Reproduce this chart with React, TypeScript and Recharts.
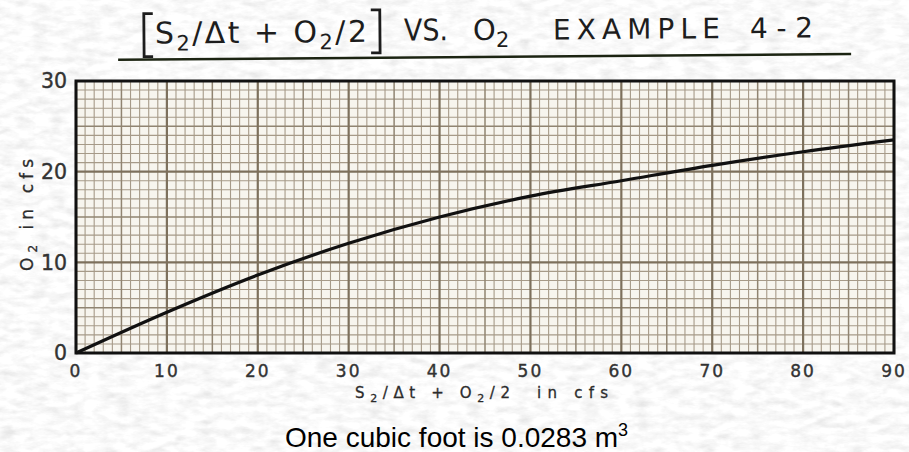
import React from "react";
import {
  LineChart,
  Line,
  XAxis,
  YAxis,
  CartesianGrid,
  ReferenceArea,
} from "recharts";

// S2/dt + O2/2 (cfs) against O2 (cfs)
const storageIndication = [0, 10, 20, 30, 40, 50, 60, 70, 80, 90];
const outflowO2 = [0, 4.5, 8.6, 12.1, 15.0, 17.3, 19.0, 20.7, 22.2, 23.5];

const xTicks = [0, 10, 20, 30, 40, 50, 60, 70, 80, 90];
const yTicks = [0, 10, 20, 30];

const X_MAX = 90;
const Y_MAX = 30;

const data = storageIndication.map((x, i) => ({ x, o2: outflowO2[i] }));

// graph paper: a line every unit, heavier every 5 and every 10
const units = (max: number, keep: (v: number) => boolean) =>
  Array.from({ length: max + 1 }, (_, i) => i).filter(keep);
const minorX = units(X_MAX, (v) => v % 5 !== 0);
const midX = units(X_MAX, (v) => v % 10 === 5);
const minorY = units(Y_MAX, (v) => v % 5 !== 0);
const midY = units(Y_MAX, (v) => v % 10 === 5);

function toPx(axis: any, v: number, fallback: () => number) {
  const s = axis?.scale;
  if (typeof s === "function") return s(v);
  if (s && typeof s.map === "function") return s.map(v);
  return fallback();
}

const xGen = (vals: number[]) => ({ xAxis, offset }: any) =>
  vals.map((v) =>
    toPx(xAxis, v, () => offset.left + (v / X_MAX) * offset.width)
  );
const yGen = (vals: number[]) => ({ yAxis, offset }: any) =>
  vals.map((v) =>
    toPx(yAxis, v, () => offset.top + offset.height - (v / Y_MAX) * offset.height)
  );

const LETTERING = "'DejaVu Sans', sans-serif";
const INK = "#1d1d1d";

// a lowered "2" followed by the rest of the text back on the baseline
function Sub({ size, drop, rest }: { size: number; drop: number; rest?: string }) {
  return (
    <>
      <tspan fontSize={size} dy={drop}>
        2
      </tspan>
      {rest ? <tspan dy={-drop}>{rest}</tspan> : null}
    </>
  );
}

function PaperBackground() {
  return (
    <svg
      width={909}
      height={452}
      style={{ position: "absolute", left: 0, top: 0 }}
    >
      <defs>
        <filter id="paper" x="0" y="0" width="100%" height="100%">
          <feTurbulence
            type="fractalNoise"
            baseFrequency="0.06 0.14"
            numOctaves={4}
            seed={11}
          />
          <feColorMatrix
            type="matrix"
            values="0.33 0.33 0.33 0 0  0.33 0.33 0.33 0 0  0.33 0.33 0.33 0 0  0 0 0 0 1"
          />
          <feComponentTransfer>
            <feFuncR type="linear" slope={0.6} intercept={0.66} />
            <feFuncG type="linear" slope={0.6} intercept={0.66} />
            <feFuncB type="linear" slope={0.6} intercept={0.66} />
          </feComponentTransfer>
        </filter>
      </defs>
      <rect width={909} height={452} fill="#e8e8e8" />
      <rect width={909} height={452} filter="url(#paper)" />
    </svg>
  );
}

function Annotations() {
  return (
    <svg
      width={909}
      height={452}
      style={{ position: "absolute", left: 0, top: 0, pointerEvents: "none" }}
    >
      <g transform="rotate(-0.45 480 40)" fill={INK} fontFamily={LETTERING}>
        <polyline
          points="153,11 144,11 144,54 153,54"
          fill="none"
          stroke={INK}
          strokeWidth={2.8}
        />
        <text x={155} y={41} fontSize={30} textLength={212} lengthAdjust="spacing">
          S<Sub size={21} drop={7} rest="/Δt + O" />
          <Sub size={21} drop={7} rest="/2" />
        </text>
        <polyline
          points="371,9 380,9 380,52 371,52"
          fill="none"
          stroke={INK}
          strokeWidth={2.8}
        />
        <text
          x={404}
          y={40}
          fontSize={30}
          textLength={44}
          lengthAdjust="spacingAndGlyphs"
        >
          VS.
        </text>
        <text x={473} y={40} fontSize={29}>
          O<Sub size={21} drop={7} />
        </text>
        <text x={553} y={40} fontSize={28} textLength={167} lengthAdjust="spacing">
          EXAMPLE
        </text>
        <text x={750} y={40} fontSize={28} textLength={63} lengthAdjust="spacing">
          4-2
        </text>
        <line x1={118} y1={57} x2={851} y2={57} stroke="#1c2412" strokeWidth={2.5} />
      </g>

      <text
        transform="translate(33,271) rotate(-90)"
        fontFamily={LETTERING}
        fontSize={17}
        fill="#2b2b2b"
        stroke="#2b2b2b"
        strokeWidth={0.3}
        textLength={112}
        lengthAdjust="spacing"
      >
        O<Sub size={12} drop={4} rest=" in cfs" />
      </text>

      <g
        fontFamily={LETTERING}
        fontSize={15}
        fill="#2b2b2b"
        stroke="#2b2b2b"
        strokeWidth={0.3}
      >
        <text x={355} y={398} textLength={155} lengthAdjust="spacing">
          S<Sub size={11} drop={4} rest="/Δt + O" />
          <Sub size={11} drop={4} rest="/2" />
        </text>
        <text x={537} y={398} textLength={71} lengthAdjust="spacing">
          in cfs
        </text>
      </g>

      <text
        x={285}
        y={447}
        fontFamily="'Liberation Sans', Arial, sans-serif"
        fontSize={28}
        fill="#000"
      >
        One cubic foot is 0.0283 m
        <tspan fontSize={18} dy={-11}>
          3
        </tspan>
      </text>
    </svg>
  );
}

export default function App() {
  return (
    <div
      style={{
        position: "absolute",
        left: 0,
        top: 0,
        width: 909,
        height: 452,
        overflow: "hidden",
      }}
    >
      <PaperBackground />
      <div style={{ position: "absolute", left: 0, top: 0 }}>
        <LineChart
          width={909}
          height={452}
          data={data}
          margin={{ top: 81, right: 15, bottom: 69, left: 46 }}
        >
          <CartesianGrid
            fill="#f7f5ee"
            stroke="#a69a88"
            strokeWidth={1.1}
            verticalCoordinatesGenerator={xGen(minorX)}
            horizontalCoordinatesGenerator={yGen(minorY)}
          />
          <CartesianGrid
            stroke="#908471"
            strokeWidth={1.5}
            verticalCoordinatesGenerator={xGen(midX)}
            horizontalCoordinatesGenerator={yGen(midY)}
          />
          <CartesianGrid
            stroke="#7d705c"
            strokeWidth={2.2}
            verticalCoordinatesGenerator={xGen(xTicks)}
            horizontalCoordinatesGenerator={yGen(yTicks)}
          />
          <XAxis
            dataKey="x"
            type="number"
            domain={[0, X_MAX]}
            ticks={xTicks}
            interval={0}
            height={30}
            axisLine={false}
            tickLine={false}
            tickMargin={6}
            tick={{
              fontSize: 17,
              fill: "#333",
              stroke: "#333",
              strokeWidth: 0.4,
              fontFamily: LETTERING,
              letterSpacing: 2,
            }}
          />
          <YAxis
            type="number"
            domain={[0, Y_MAX]}
            ticks={yTicks}
            interval={0}
            width={30}
            axisLine={false}
            tickLine={false}
            tickMargin={3}
            tick={{
              fontSize: 20.5,
              fill: "#333",
              stroke: "#333",
              strokeWidth: 0.4,
              fontFamily: LETTERING,
            }}
          />
          <ReferenceArea
            x1={0}
            x2={X_MAX}
            y1={0}
            y2={Y_MAX}
            fill="none"
            fillOpacity={0}
            stroke="#111"
            strokeWidth={3}
          />
          <Line
            type="monotone"
            dataKey="o2"
            stroke="#111"
            strokeWidth={3.2}
            dot={false}
            activeDot={false}
            isAnimationActive={false}
          />
        </LineChart>
      </div>
      <Annotations />
    </div>
  );
}
